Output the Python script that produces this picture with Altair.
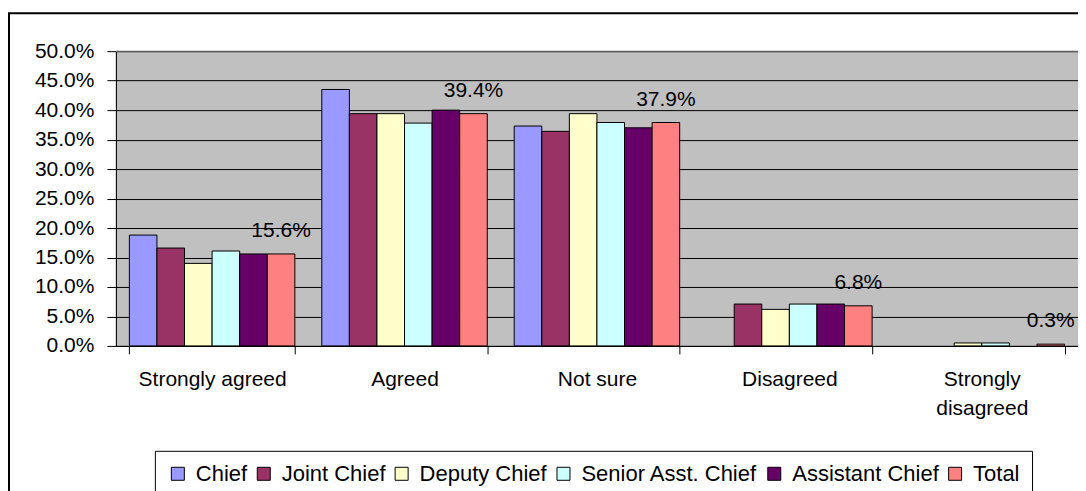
import altair as alt
import pandas as pd

categories = ["Strongly agreed", "Agreed", "Not sure", "Disagreed", "Strongly disagreed"]
series = ["Chief", "Joint Chief", "Deputy Chief", "Senior Asst. Chief", "Assistant Chief", "Total"]

chief = [18.8, 43.5, 37.3, 0.0, 0.0]
joint_chief = [16.6, 39.4, 36.4, 7.1, 0.0]
deputy_chief = [14.0, 39.4, 39.4, 6.2, 0.5]
senior_asst_chief = [16.1, 37.8, 37.9, 7.1, 0.5]
assistant_chief = [15.6, 40.0, 37.0, 7.1, 0.0]
total = [15.6, 39.4, 37.9, 6.8, 0.3]

colors = ["#9999FF", "#993366", "#FFFFCC", "#CCFFFF", "#660066", "#FF8080"]
y_ticks = [0, 5, 10, 15, 20, 25, 30, 35, 40, 45, 50]
y_max = 50

values_by_series = [chief, joint_chief, deputy_chief, senior_asst_chief, assistant_chief, total]
rows = []
for s, vals in zip(series, values_by_series):
    for c, v in zip(categories, vals):
        rows.append({"Category": c, "Series": s, "Value": v})
df = pd.DataFrame(rows)

FONT = "Liberation Sans"

x_enc = alt.X(
    "Category:N",
    sort=categories,
    title=None,
    scale=alt.Scale(paddingInner=0.14, paddingOuter=0.07),
    axis=alt.Axis(
        labelAngle=0,
        labelFont=FONT,
        labelFontSize=21,
        labelColor="black",
        labelPadding=15,
        labelLineHeight=29,
        labelExpr="datum.label == 'Strongly disagreed' ? ['Strongly', 'disagreed'] : datum.label",
        tickBand="extent",
        tickSize=8,
        tickColor="black",
        domainColor="black",
        grid=False,
    ),
)
xoff_enc = alt.XOffset("Series:N", sort=series, scale=alt.Scale(domain=series, paddingInner=0, paddingOuter=0))

y_scale = alt.Scale(domain=[0, y_max], nice=False)
y_axis = alt.Axis(
    values=y_ticks,
    labelOverlap=False,
    labelExpr="format(datum.value, '.1f') + '%'",
    labelFont=FONT,
    labelFontSize=21,
    labelColor="black",
    labelPadding=13,
    tickSize=9,
    tickColor="black",
    domainColor="black",
    grid=True,
    gridColor="black",
    gridWidth=1,
    gridOpacity=1,
)
y_enc = alt.Y("Value:Q", title=None, scale=y_scale, axis=y_axis)

bars = alt.Chart(df).transform_filter("datum.Value > 0").mark_bar(
    stroke="black", strokeWidth=1
).encode(
    x=x_enc,
    xOffset=xoff_enc,
    y=y_enc,
    color=alt.Color(
        "Series:N",
        sort=series,
        scale=alt.Scale(domain=series, range=colors),
        title=None,
        legend=alt.Legend(
            orient="none",
            legendX=39,
            legendY=400,
            direction="horizontal",
            strokeColor="black",
            fillColor="white",
            padding=12,
            symbolType="square",
            symbolSize=169,
            symbolStrokeColor="black",
            symbolStrokeWidth=1,
            symbolOpacity=1,
            labelFont=FONT,
            labelFontSize=22,
            labelColor="black",
            labelOffset=7,
            labelLimit=0,
            columnPadding=5,
        ),
    ),
)

labels = alt.Chart(df).transform_filter("datum.Series == 'Total'").transform_calculate(
    label="format(datum.Value, '.1f') + '%'"
).mark_text(
    font=FONT, fontSize=21, color="black", baseline="alphabetic", dy=-17
).encode(
    x=x_enc,
    xOffset=xoff_enc,
    y=y_enc,
    text="label:N",
)

top_border = alt.Chart(pd.DataFrame({"Value": [y_max]})).mark_rule(
    color="#808080", strokeWidth=1
).encode(y=y_enc)

frame = alt.Chart(pd.DataFrame({"a": [0]})).mark_rect(
    fillOpacity=0, stroke="black", strokeWidth=2
).encode(
    x=alt.value(-107), x2=alt.value(1200), y=alt.value(-38), y2=alt.value(700)
)

chart = alt.layer(frame, bars, top_border, labels).properties(
    width=963,
    height=295,
    padding={"left": 108, "top": 43, "right": 0, "bottom": 145},
    autosize=alt.AutoSizeParams(type="none"),
    background="white",
).configure_view(
    fill="#C0C0C0", stroke="#808080", strokeWidth=1
)

chart.save("out.html", embed_options={"renderer": "svg", "actions": False})
